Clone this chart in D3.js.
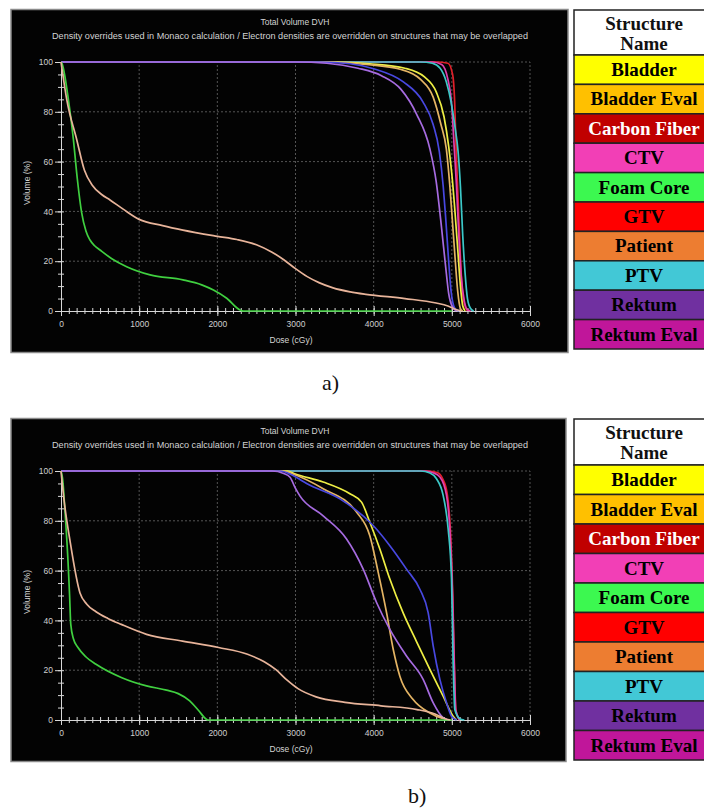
<!DOCTYPE html>
<html><head><meta charset="utf-8">
<script src="https://cdn.jsdelivr.net/npm/d3@7"></script>
<style>body{margin:0;background:#fff;} svg{display:block}</style>
</head><body>
<svg id="c" width="704" height="812"></svg>
<script>
// ---------- data ----------
const structureNames = ["Bladder","Bladder Eval","Carbon Fiber","CTV","Foam Core","GTV","Patient","PTV","Rektum","Rektum Eval"];
const legendColors = ["#ffff00","#ffc000","#c00000","#f23fb6","#3cf850","#ff0000","#ed7d31","#42c8d6","#7030a0","#c0169a"];
const legendTextColors = ["#000","#000","#fff","#000","#000","#000","#000","#000","#000","#000"];
const legendHeader = ["Structure","Name"];
const doseTicks = [0,1000,2000,3000,4000,5000,6000];
const volumeTicks = [0,20,40,60,80,100];
const chartTitle = "Total Volume DVH";
const chartSubtitle = "Density overrides used in Monaco calculation / Electron densities are overridden on structures that may be overlapped";
const xAxisTitle = "Dose (cGy)";
const yAxisTitle = "Volume (%)";
const panelLabels = ["a)","b)"];

// panel a: [dose cGy, volume %]
const aPatient = [[0,100],[73,85],[200,69],[300,56.5],[400,50.5],[520,46.8],[627,44.6],[800,40.8],[1000,36.8],[1300,34.3],[1560,32.5],[2000,30],[2250,28.7],[2500,26.6],[2700,23.6],[2850,20.6],[3000,17],[3150,13.8],[3300,11.4],[3480,9.3],[3700,7.7],[3900,6.7],[4400,5],[4800,3.2],[4950,2],[5060,0.5],[5120,0]];
const aFoamCore = [[0,100],[10,99.6],[94,85],[158,69],[209,53],[264,39.5],[320,32],[371,28.5],[430,26.2],[499,24.5],[650,21],[840,17.8],[1140,14.5],[1560,12.5],[1800,10.5],[1950,8.4],[2120,5.1],[2290,0.4],[2330,0],[5000,0]];
const aRektumEval = [[0,100],[3000,100],[3400,99.5],[3800,97.5],[4100,94.5],[4350,89],[4550,79],[4720,65],[4800,52],[4870,33],[4920,18],[4960,7],[5010,1.5],[5060,0]];
const aRektum = [[0,100],[3300,100],[3700,99.3],[4000,97.3],[4380,92],[4630,84],[4760,75],[4840,64],[4890,50],[4920,38],[4955,22],[4990,8],[5040,1],[5090,0]];
const aBladderEval = [[0,100],[3400,100],[3900,99],[4350,97],[4600,93],[4760,86],[4860,75],[4930,65],[4975,50],[5010,35],[5040,22],[5075,8],[5110,1],[5140,0]];
const aBladder = [[0,100],[3500,100],[3950,99.3],[4400,97.5],[4650,94],[4800,88],[4900,78],[4960,66],[5000,55],[5040,40],[5075,25],[5110,10],[5140,2],[5170,0]];
const aPTV = [[0,100],[4600,100],[4750,99.5],[4850,97.5],[4930,92],[4990,84],[5040,74],[5080,64],[5110,50],[5140,30],[5170,15],[5200,5],[5240,1],[5280,0]];
const aCTV = [[0,100],[4750,100],[4870,99],[4950,93],[5000,82],[5030,66],[5060,50],[5090,30],[5120,14],[5160,4],[5200,0.5],[5240,0]];
const aGTV = [[0,100],[4800,100],[4950,99.5],[5010,95],[5035,85],[5055,65],[5080,45],[5105,25],[5130,10],[5160,3],[5200,0]];

// panel b
const bPatient = [[0,100],[40,88],[115,72],[243,51],[330,46.5],[448,43.5],[600,40.8],[771,38.4],[1094,34.4],[1555,31.7],[2017,29.1],[2386,26.4],[2600,23.4],[2750,20.2],[2893,16],[3032,12.6],[3263,9.3],[3632,7.1],[4093,5.7],[4555,4.2],[4785,2.4],[4924,0.4],[4980,0]];
const bFoamCore = [[0,100],[20,97],[51,84],[94,61],[110,50],[125,38.4],[160,32.5],[217,29.1],[320,25.3],[448,22.4],[771,17.1],[1094,13.7],[1350,12],[1500,10.6],[1647,7.7],[1763,3.7],[1855,0.4],[1880,0],[5000,0]];
const bRektumEval = [[0,100],[2700,100],[2850,99],[2930,97.5],[3000,93],[3056,90],[3354,82],[3653,72.7],[3866,60.6],[4037,47.2],[4207,36.4],[4420,25.7],[4633,16.3],[4762,6.9],[4889,0.9],[4950,0]];
const bRektum = [[0,100],[2800,100],[2950,98.5],[3056,96.6],[3142,95],[3568,88.8],[3994,78.1],[4207,70],[4420,60.6],[4591,52.5],[4697,43.1],[4762,29.7],[4847,16.3],[4932,6.9],[4996,1.5],[5060,0]];
const bBladderEval = [[0,100],[2850,100],[2950,99],[3354,92.9],[3781,83.5],[3951,74],[4058,59.3],[4165,43.1],[4250,28.4],[4335,17.6],[4505,8.2],[4719,2.8],[4889,0.5],[4950,0]];
const bBladder = [[0,100],[2900,100],[2980,99],[3354,95.6],[3696,90.9],[3845,87.5],[3951,79.4],[4079,68.7],[4207,56.6],[4377,43],[4548,31.5],[4719,20.3],[4889,9.6],[5017,1.5],[5060,0]];
const bPTV = [[0,100],[4600,100],[4720,99.2],[4804,96.9],[4889,90.2],[4953,76.7],[4996,56.6],[5017,23],[5038,4.2],[5102,0.5],[5160,0]];
const bCTV = [[0,100],[4650,100],[4760,99.3],[4847,97.6],[4932,90.2],[4974,76.7],[5009,49.9],[5030,23],[5050,4],[5102,0]];
const bGTV = [[0,100],[4700,100],[4820,99.3],[4880,97],[4940,91],[4980,77],[5012,50],[5032,23],[5052,4],[5100,0]];

// ---------- styles ----------
const curveColor = {
  "GTV":"#e0202a","CTV":"#e040b0","PTV":"#3cc8c8","Bladder":"#eeee44","Bladder Eval":"#e4b464",
  "Rektum":"#4848e0","Rektum Eval":"#a66be0","Foam Core":"#40d040","Patient":"#e8b49a"
};

const panels = [
  {off:0, right:568, label:panelLabels[0], lx:322, ly:390,
   series:[["GTV",aGTV],["CTV",aCTV],["PTV",aPTV],["Bladder",aBladder],["Bladder Eval",aBladderEval],["Rektum",aRektum],["Rektum Eval",aRektumEval],["Foam Core",aFoamCore],["Patient",aPatient]],
   legendTop:10, headerH:45, rowH:29.4},
  {off:409, right:566, label:panelLabels[1], lx:408, ly:803,
   series:[["GTV",bGTV],["CTV",bCTV],["PTV",bPTV],["Bladder",bBladder],["Bladder Eval",bBladderEval],["Rektum",bRektum],["Rektum Eval",bRektumEval],["Foam Core",bFoamCore],["Patient",bPatient]],
   legendTop:419, headerH:46, rowH:29.5}
];

const svg = d3.select("#c");
const sans = "'Liberation Sans', Arial, sans-serif";
const serif = "'Liberation Serif', 'Times New Roman', serif";

panels.forEach(p => {
  const off = p.off;
  const x = d3.scaleLinear().domain([0,6000]).range([61,530]);
  const y = d3.scaleLinear().domain([0,100]).range([311+off, 62+off]);
  const g = svg.append("g");

  g.append("rect").attr("x",11).attr("y",9.5+off).attr("width",p.right-11).attr("height",343)
    .attr("fill","#030303").attr("stroke","#8a8a8a").attr("stroke-width",1.5);

  g.append("text").attr("x",295).attr("y",25+off).attr("text-anchor","middle")
    .attr("font-family",sans).attr("font-size",8.5).attr("fill","#d4d4d4").text(chartTitle);
  g.append("text").attr("x",52).attr("y",39+off)
    .attr("textLength",476).attr("lengthAdjust","spacingAndGlyphs")
    .attr("font-family",sans).attr("font-size",8.5).attr("fill","#d4d4d4").text(chartSubtitle);

  // grid
  g.selectAll(".vg").data(doseTicks.slice(1)).join("line")
    .attr("x1",d=>x(d)).attr("x2",d=>x(d)).attr("y1",y(0)).attr("y2",y(100))
    .attr("stroke","#6a6a6a").attr("stroke-width",0.8).attr("stroke-dasharray","2,2");
  g.selectAll(".hg").data(volumeTicks.slice(1)).join("line")
    .attr("x1",x(0)).attr("x2",x(6000)).attr("y1",d=>y(d)).attr("y2",d=>y(d))
    .attr("stroke","#6a6a6a").attr("stroke-width",0.8).attr("stroke-dasharray","2,2");

  // x axis
  const xg = g.append("g").attr("transform",`translate(0,${y(0)})`);
  xg.append("g").call(d3.axisBottom(x).tickValues(x.ticks(60)).tickSize(3).tickSizeOuter(0).tickFormat(""));
  xg.append("g").call(d3.axisBottom(x).tickValues(x.ticks(60)).tickSize(-3).tickSizeOuter(0).tickFormat(""));
  xg.append("g").call(d3.axisBottom(x).tickValues(doseTicks).tickSize(-5).tickSizeOuter(0).tickFormat(""));
  xg.append("g").call(d3.axisBottom(x).tickValues(doseTicks).tickSize(5).tickPadding(5).tickSizeOuter(0).tickFormat(d3.format("d")));
  // y axis
  const yg = g.append("g").attr("transform",`translate(${x(0)},0)`);
  yg.append("g").call(d3.axisLeft(y).tickValues(y.ticks(20)).tickSize(3).tickSizeOuter(0).tickFormat(""));
  yg.append("g").call(d3.axisLeft(y).tickValues(y.ticks(20)).tickSize(-3).tickSizeOuter(0).tickFormat(""));
  yg.append("g").call(d3.axisLeft(y).tickValues(volumeTicks).tickSize(6).tickPadding(2).tickSizeOuter(0).tickFormat(d3.format("d")));
  [xg,yg].forEach(a=>{
    a.selectAll("path.domain").attr("stroke","#d8d8d8");
    a.selectAll(".tick line").attr("stroke","#d8d8d8");
    a.selectAll(".tick text").attr("fill","#cfcfcf").attr("font-family",sans).attr("font-size",8.5);
  });

  // axis titles
  g.append("text").attr("x",291).attr("y",343+off).attr("text-anchor","middle")
    .attr("font-family",sans).attr("font-size",8.5).attr("fill","#d4d4d4").text(xAxisTitle);
  g.append("text").attr("transform",`translate(30,${183+off}) rotate(-90)`).attr("text-anchor","middle")
    .attr("font-family",sans).attr("font-size",8.5).attr("fill","#d4d4d4").text(yAxisTitle);

  // curves
  const line = d3.line().x(d=>x(d[0])).y(d=>y(d[1])).curve(d3.curveMonotoneX);
  const cg = g.append("g");
  cg.selectAll("path").data(p.series).join("path")
    .attr("d",d=>line(d[1])).attr("fill","none")
    .attr("stroke",d=>curveColor[d[0]]).attr("stroke-width",1.7)
    .attr("stroke-linejoin","round");

  // panel label
  svg.append("text").attr("x",p.lx).attr("y",p.ly).attr("font-family",serif)
    .attr("font-size",22).attr("fill","#111").text(p.label);

  // legend table
  const lg = svg.append("g");
  const lx = 574, lw = 140, cx = 644;
  lg.append("rect").attr("x",lx).attr("y",p.legendTop).attr("width",lw).attr("height",p.headerH)
    .attr("fill","#fff").attr("stroke","#222").attr("stroke-width",1.5);
  lg.append("text").attr("x",cx).attr("y",p.legendTop+20).attr("text-anchor","middle")
    .attr("font-family",serif).attr("font-weight","bold").attr("font-size",19).attr("fill","#111").text(legendHeader[0]);
  lg.append("text").attr("x",cx).attr("y",p.legendTop+40).attr("text-anchor","middle")
    .attr("font-family",serif).attr("font-weight","bold").attr("font-size",19).attr("fill","#111").text(legendHeader[1]);
  const rows = lg.selectAll(".row").data(structureNames).join("g")
    .attr("transform",(d,i)=>`translate(0,${p.legendTop+p.headerH+i*p.rowH})`);
  rows.append("rect").attr("x",lx).attr("y",0).attr("width",lw).attr("height",p.rowH)
    .attr("fill",(d,i)=>legendColors[i]).attr("stroke","#222").attr("stroke-width",1.5);
  rows.append("text").attr("x",cx).attr("y",21).attr("text-anchor","middle")
    .attr("font-family",serif).attr("font-weight","bold").attr("font-size",19)
    .attr("fill",(d,i)=>legendTextColors[i]).text(d=>d);
});
</script>
</body></html>
